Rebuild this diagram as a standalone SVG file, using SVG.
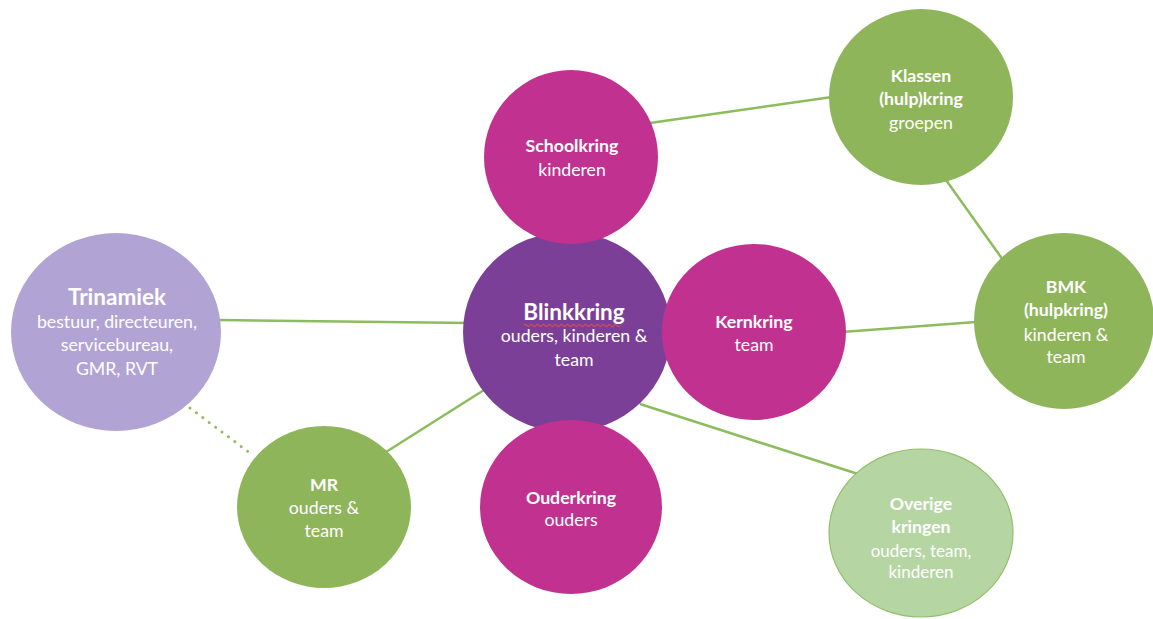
<svg xmlns="http://www.w3.org/2000/svg" width="1153" height="619" viewBox="0 0 1153 619">
<style>
.t{font-family:Lato,"Open Sans","Liberation Sans",sans-serif;fill:#ffffff;text-anchor:middle;font-size:17.7px}
.b{font-weight:bold}
.big{font-size:22.5px}
.sm{font-size:17px}
.edge{stroke:#8cbc5c;stroke-width:2.5;fill:none}
.dot{stroke:#8cbc5c;stroke-width:3;stroke-dasharray:0 8;stroke-linecap:round;fill:none}
.mag{fill:#c13290}
.pur{fill:#7b3f98}
.grn{fill:#8fb55b}
.lav{fill:#b1a4d4}
.lgr{fill:#b5d6a3;stroke:#93bf6a;stroke-width:1.2}
</style>
<rect width="1153" height="619" fill="#ffffff"/>
<g id="connectors">
<line class="edge" x1="220" y1="320" x2="470" y2="323"/>
<line class="edge" x1="386" y1="452" x2="484" y2="390"/>
<line class="dot" x1="190" y1="408" x2="250" y2="453"/>
<line class="edge" x1="650" y1="123" x2="832" y2="97"/>
<line class="edge" x1="946" y1="180" x2="1003" y2="260"/>
<line class="edge" x1="842" y1="332" x2="976" y2="322"/>
<line class="edge" x1="640" y1="404" x2="858" y2="474"/>
</g>
<g id="blinkkring">
<ellipse class="pur" cx="567" cy="332" rx="104" ry="100"/>
<text class="t b big" x="574" y="320">Blinkkring</text>
<path d="M524 325.5 q1.5 -2 3 0 t3 0 t3 0 t3 0 t3 0 t3 0 t3 0 t3 0 t3 0 t3 0 t3 0 t3 0 t3 0 t3 0 t3 0 t3 0 t3 0 t3 0 t3 0 t3 0 t3 0 t3 0 t3 0 t3 0 t3 0 t3 0 t3 0 t3 0 t3 0 t3 0 t3 0 t3 0" fill="none" stroke="#e0504a" stroke-width="1.1"/>
<text class="t" x="574" y="342">ouders, kinderen &amp;</text>
<text class="t" x="574" y="366">team</text>
</g>
<g id="schoolkring">
<ellipse class="mag" cx="571" cy="157" rx="87" ry="87"/>
<text class="t b" x="572" y="152">Schoolkring</text>
<text class="t" x="572" y="176">kinderen</text>
</g>
<g id="kernkring">
<ellipse class="mag" cx="754" cy="332" rx="92" ry="88"/>
<text class="t b" x="754" y="328">Kernkring</text>
<text class="t" x="754" y="351">team</text>
</g>
<g id="ouderkring">
<ellipse class="mag" cx="571" cy="507" rx="91" ry="87"/>
<text class="t b" x="571" y="504">Ouderkring</text>
<text class="t" x="571" y="526">ouders</text>
</g>
<g id="trinamiek">
<ellipse class="lav" cx="116" cy="332" rx="105" ry="99"/>
<text class="t b big" x="117" y="305">Trinamiek</text>
<text class="t" x="117" y="328">bestuur, directeuren,</text>
<text class="t" x="117" y="351">servicebureau,</text>
<text class="t" x="117" y="375">GMR, RVT</text>
</g>
<g id="mr">
<ellipse class="grn" cx="324" cy="507" rx="87" ry="81"/>
<text class="t b" x="324" y="491">MR</text>
<text class="t" x="324" y="514">ouders &amp;</text>
<text class="t" x="324" y="537">team</text>
</g>
<g id="klassen">
<ellipse class="grn" cx="921" cy="97" rx="92" ry="88"/>
<text class="t b" x="921" y="82">Klassen</text>
<text class="t b" x="921" y="105">(hulp)kring</text>
<text class="t" x="921" y="129">groepen</text>
</g>
<g id="bmk">
<ellipse class="grn" cx="1064" cy="321" rx="90" ry="88"/>
<text class="t b" x="1066" y="293">BMK</text>
<text class="t b" x="1066" y="316">(hulpkring)</text>
<text class="t" x="1066" y="341">kinderen &amp;</text>
<text class="t" x="1066" y="363">team</text>
</g>
<g id="overige">
<ellipse class="lgr" cx="921" cy="533" rx="92" ry="84"/>
<text class="t b" x="921" y="510">Overige</text>
<text class="t b" x="921" y="533">kringen</text>
<text class="t sm" x="921" y="557">ouders, team,</text>
<text class="t sm" x="921" y="578">kinderen</text>
</g>
</svg>
